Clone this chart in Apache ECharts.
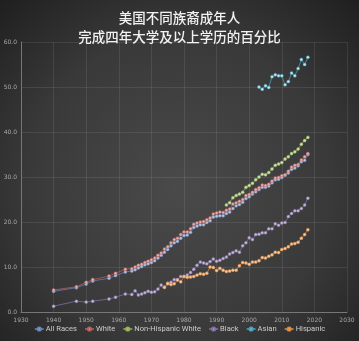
<!DOCTYPE html>
<html><head><meta charset="utf-8">
<script src="https://cdn.jsdelivr.net/npm/echarts@6/dist/echarts.min.js"></script>
<style>html,body{margin:0;padding:0;background:#2a2a2a}#c{width:359px;height:341px}</style>
</head><body><div id="c"></div>
<script>
const titleLines = ['美国不同族裔成年人', '完成四年大学及以上学历的百分比'];
const seriesNames = ['All Races', 'White', 'Non-Hispanic White', 'Black', 'Asian', 'Hispanic'];
const xTicks = [1930, 2030, 10];
const yTicks = [0, 60, 10];

const yearsMain = [1940,1947,1950,1952,1957,1959,1962,1964,1965,1966,1967,1968,1969,1970,1971,1972,1973,1974,1975,1976,1977,1978,1979,1980,1981,1982,1983,1984,1985,1986,1987,1988,1989,1990,1991,1992,1993,1994,1995,1996,1997,1998,1999,2000,2001,2002,2003,2004,2005,2006,2007,2008,2009,2010,2011,2012,2013,2014,2015,2016,2017,2018];
const allRaces = [4.6,5.4,6.2,6.9,7.5,8.1,8.9,9.1,9.4,9.8,10.1,10.5,10.7,11.0,11.4,12.0,12.6,13.3,13.9,14.7,15.4,15.7,16.4,17.0,17.1,17.7,18.8,19.1,19.4,19.4,19.9,20.3,21.1,21.3,21.4,21.4,21.9,22.2,23.0,23.6,23.9,24.4,25.2,25.6,26.2,26.7,27.2,27.7,27.7,28.0,28.7,29.4,29.5,29.9,30.4,30.9,31.7,32.0,32.5,33.4,33.7,35.0];
const white = [4.9,5.6,6.6,7.2,8.0,8.6,9.5,9.6,10.0,10.4,10.6,11.0,11.3,11.6,12.0,12.6,13.1,14.0,14.5,15.4,16.1,16.4,17.2,17.8,17.8,18.5,19.5,19.8,20.0,20.1,20.5,20.9,21.8,22.0,22.2,22.1,22.6,22.9,24.0,24.3,24.6,25.0,25.9,26.1,26.6,27.2,27.6,28.2,28.1,28.4,29.1,29.8,29.9,30.3,30.5,31.3,32.2,32.6,32.8,33.8,34.5,35.2];
const black = [1.3,2.4,2.2,2.4,2.9,3.3,4.0,3.9,4.7,3.8,4.0,4.3,4.6,4.4,4.5,5.1,6.0,5.5,6.4,6.6,7.2,7.2,7.9,7.9,8.2,8.8,9.5,10.4,11.1,10.9,10.7,11.2,11.8,11.3,11.5,11.9,12.2,12.9,13.2,13.6,13.3,14.7,15.4,16.5,16.1,17.2,17.3,17.6,17.6,18.5,18.5,19.6,19.3,19.8,19.9,21.2,21.9,22.5,22.5,23.0,23.8,25.3];
const yearsNHW = [1993,1994,1995,1996,1997,1998,1999,2000,2001,2002,2003,2004,2005,2006,2007,2008,2009,2010,2011,2012,2013,2014,2015,2016,2017,2018];
const nhWhite = [23.8,24.3,25.4,25.9,26.2,26.6,27.7,28.1,28.6,29.4,30.0,30.6,30.5,31.0,31.8,32.6,32.9,33.2,34.0,34.5,35.2,35.6,36.2,37.3,38.1,38.8];
const yearsAsian = [2003,2004,2005,2006,2007,2008,2009,2010,2011,2012,2013,2014,2015,2016,2017,2018];
const asian = [50.0,49.5,50.3,49.9,52.3,52.7,52.5,52.5,50.5,51.2,53.1,52.5,54.1,56.1,55.0,56.6];
const yearsHisp = [1974,1975,1976,1977,1978,1979,1980,1981,1982,1983,1984,1985,1986,1987,1988,1989,1990,1991,1992,1993,1994,1995,1996,1997,1998,1999,2000,2001,2002,2003,2004,2005,2006,2007,2008,2009,2010,2011,2012,2013,2014,2015,2016,2017,2018];
const hispanic = [5.5,6.3,6.1,6.3,7.1,6.7,7.9,7.7,7.8,7.9,8.2,8.5,8.4,8.6,10.0,9.9,9.2,9.7,9.3,9.0,9.1,9.3,9.3,10.3,11.0,10.9,10.6,11.1,11.1,11.4,12.1,12.0,12.4,12.7,13.3,13.2,13.9,14.1,14.5,15.1,15.2,15.5,16.4,17.2,18.3];

const lineColors = ['#6a86b8','#b8605e','#93b05a','#8470a6','#47a3bb','#dc8840'];
const markColors = ['#b8c6e0','#e0b0ae','#cde0ae','#c4b8d8','#bfe6ef','#f3c79c'];

const pairs = (xs, ys) => xs.map((x, i) => [x, ys[i]]);
const datasets = [
  pairs(yearsMain, allRaces), pairs(yearsMain, white), pairs(yearsNHW, nhWhite),
  pairs(yearsMain, black), pairs(yearsAsian, asian), pairs(yearsHisp, hispanic)
];

const chart = echarts.init(document.getElementById('c'), null, {renderer: 'canvas'});
chart.setOption({
  animation: false,
  backgroundColor: {
    type: 'radial', x: 0.5, y: 0.55, r: 0.75,
    colorStops: [{offset: 0, color: '#4a4a4a'}, {offset: 0.6, color: '#393939'}, {offset: 1, color: '#202020'}]
  },
  title: {
    text: titleLines.join('\n'),
    left: 'center', top: 3,
    textStyle: {color: '#f2f2f2', fontSize: 13.5, fontWeight: 500, lineHeight: 19,
      fontFamily: 'Noto Sans CJK SC'}
  },
  grid: {left: 21, right: 12, top: 42, bottom: 29, containLabel: false},
  xAxis: {
    type: 'value', min: xTicks[0], max: xTicks[1], interval: xTicks[2],
    axisLine: {show: true, lineStyle: {color: '#777', width: 1}},
    axisTick: {show: false},
    axisLabel: {color: '#a8a8a8', fontSize: 6, margin: 5, fontFamily: 'DejaVu Sans',
      formatter: v => String(v)},
    splitLine: {show: true, lineStyle: {color: 'rgba(255,255,255,0.09)', width: 1}}
  },
  yAxis: {
    type: 'value', min: yTicks[0], max: yTicks[1], interval: yTicks[2],
    axisLine: {show: true, lineStyle: {color: '#777', width: 1}},
    axisTick: {show: false},
    axisLabel: {color: '#a8a8a8', fontSize: 6, margin: 4, fontFamily: 'DejaVu Sans',
      formatter: v => v.toFixed(1)},
    splitLine: {show: true, lineStyle: {color: 'rgba(255,255,255,0.09)', width: 1}}
  },
  legend: {
    bottom: 3, left: 'center', itemGap: 7, itemWidth: 9, itemHeight: 4,
    textStyle: {color: '#cccccc', fontSize: 7.6, fontFamily: 'Roboto', padding: [0, 0, 0, -3]},
    data: seriesNames
  },
  series: seriesNames.map((name, i) => ({
    name, type: 'line', data: datasets[i],
    symbol: 'circle', symbolSize: 3, showSymbol: true,
    lineStyle: {color: lineColors[i], width: 1, opacity: 0.75},
    itemStyle: {color: markColors[i], borderColor: lineColors[i], borderWidth: 0.5},
    emphasis: {disabled: true}
  }))
});
</script></body></html>
